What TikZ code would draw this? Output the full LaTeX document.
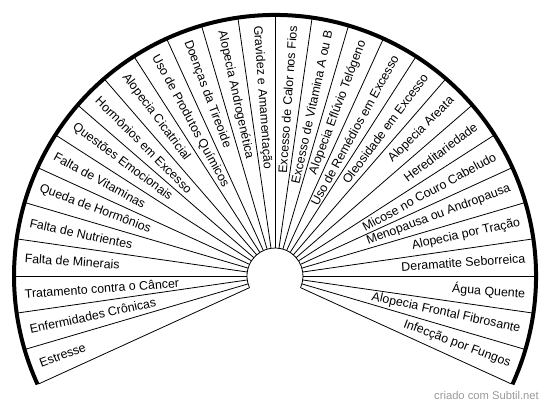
\documentclass[tikz,border=0pt]{standalone}
\usepackage{fontspec}
\setmainfont{Liberation Sans}
\begin{document}
\begin{tikzpicture}[x=1pt,y=1pt]
	\useasboundingbox (0,0) rectangle (550,407);
	\pgfmathsetmacro{\d}{180/22}
	\begin{scope}[shift={(275,131)}]
		% spokes
		\foreach \k in {0,...,28}{
			\pgfmathsetmacro{\a}{-3*\d+\k*\d}
			\draw[line width=0.8pt] (\a:28) -- (\a:260);
		}
		\draw[line width=0.8pt] (-3*\d:28) arc[start angle=-3*\d, end angle=180+3*\d, radius=28]; % hub
		\draw[line width=4pt] (-3*\d:261) arc[start angle=-3*\d, end angle=180+3*\d, radius=261]; % rim
		
		\foreach \t [count=\k] in {Estresse, Enfermidades Crônicas, Tratamento contra o Câncer, Falta de Minerais, Falta de Nutrientes, Queda de Hormônios, Falta de Vitaminas, Questões Emocionais, Hormônios em Excesso, Alopecia Cicatricial, Uso de Produtos Químicos, Doenças da Tireoide, Alopecia Androgenética, Gravidez e Amamentação, Excesso de Calor nos Fios, Excesso de Vitamina A ou B, Alopecia Eflúvio Telógeno, Uso de Remédios em Excesso, Oleosidade em Excesso, Alopecia Areata, Hereditariedade, Micose no Couro Cabeludo, Menopausa ou Andropausa, Alopecia por Tração, Deramatite Seborreica, Água Quente, Alopecia Frontal Fibrosante, Infecção por Fungos}{
			\pgfmathsetmacro{\a}{180+3*\d-(\k-0.5)*\d}
			\ifnum\k<15
				\node[anchor=west, inner sep=0pt, font=\fontsize{12.4}{14}\selectfont, rotate=\a-180] (lbl\k) at (\a:251) {\t};
			\else
				\node[anchor=east, inner sep=0pt, font=\fontsize{12.4}{14}\selectfont, rotate=\a] (lbl\k) at (\a:251) {\t};
			\fi
		}
	\end{scope}
	\node[anchor=east, inner sep=0pt, text=black!40, font=\fontsize{11.2}{13}\selectfont] (credit) at (539,11) {criado com Subtil.net};
\end{tikzpicture}
\end{document}
